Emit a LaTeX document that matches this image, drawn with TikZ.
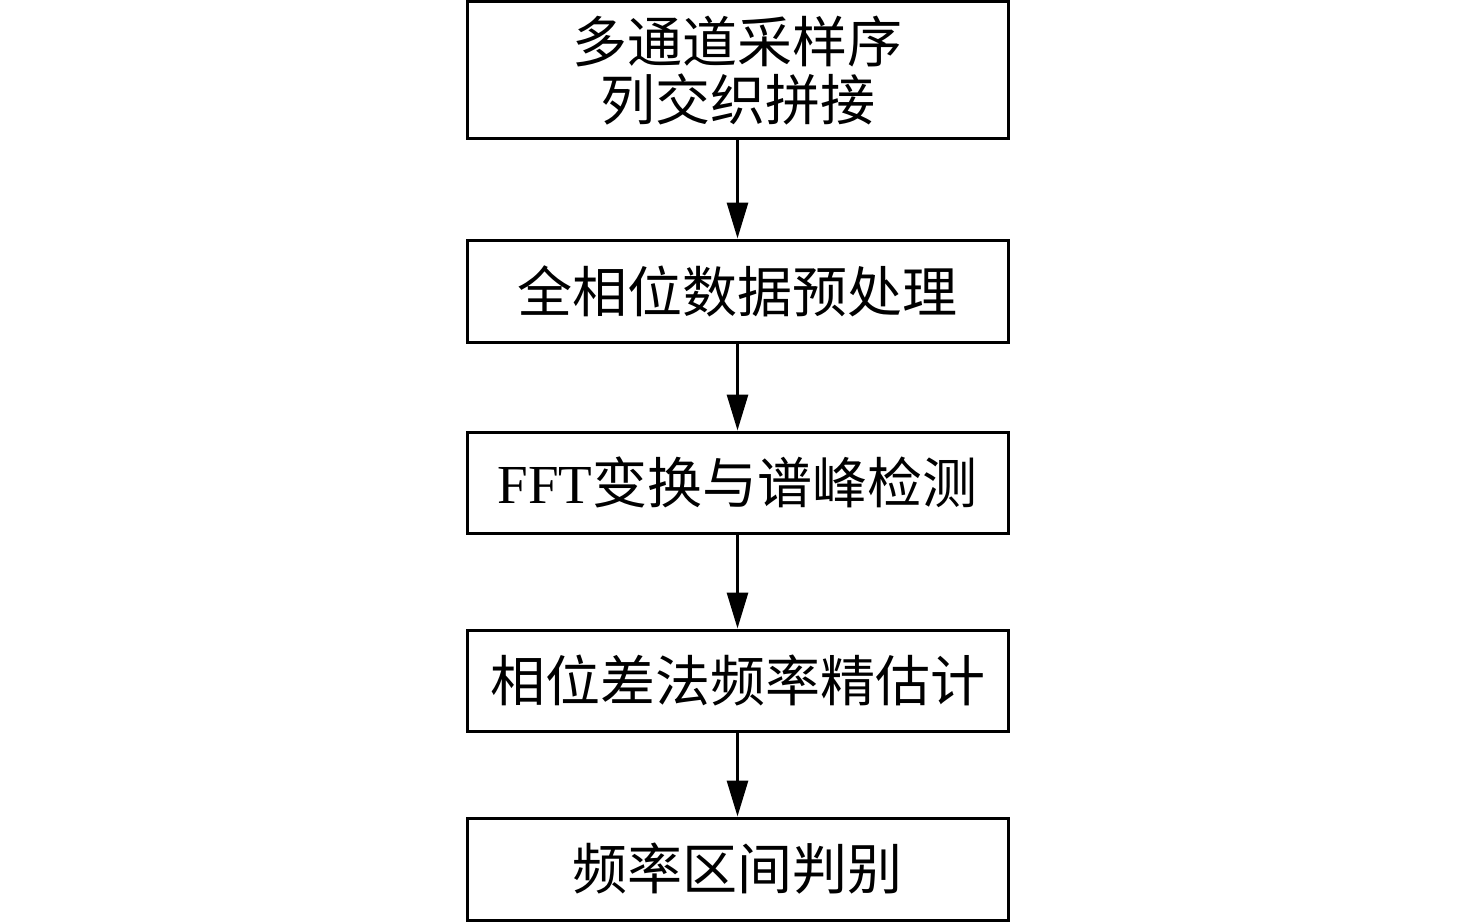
\documentclass[tikz,border=0pt]{standalone}
\usepackage{fontspec}
\setmainfont{Liberation Serif}
\newfontfamily\cjk{Noto Sans CJK SC}
\usetikzlibrary{arrows.meta}
\begin{document}
\begin{tikzpicture}[x=1pt,y=-1pt,
  box/.style={draw, line width=3pt, minimum width=541pt, inner sep=0pt, align=center,
    font=\fontsize{55pt}{58pt}\selectfont\cjk},
  arr/.style={line width=3pt, -{Triangle[length=36pt,width=21pt]}}]
\useasboundingbox (0,0) rectangle (1476,923);
\node[box, minimum height=137pt] (b1) at (737.5,70.5) {多通道采样序\\列交织拼接};
\node[box, minimum height=102pt] (b2) at (737.5,291) {全相位数据预处理};
\node[box, minimum height=101pt] (b3) at (737.5,482.5) {{\rmfamily FFT}变换与谱峰检测};
\node[box, minimum height=101pt] (b4) at (737.5,680.5) {相位差法频率精估计};
\node[box, minimum height=102pt] (b5) at (737.5,869) {频率区间判别};
\draw[arr] (b1) -- (b2);
\draw[arr] (b2) -- (b3);
\draw[arr] (b3) -- (b4);
\draw[arr] (b4) -- (b5);
\end{tikzpicture}
\end{document}
